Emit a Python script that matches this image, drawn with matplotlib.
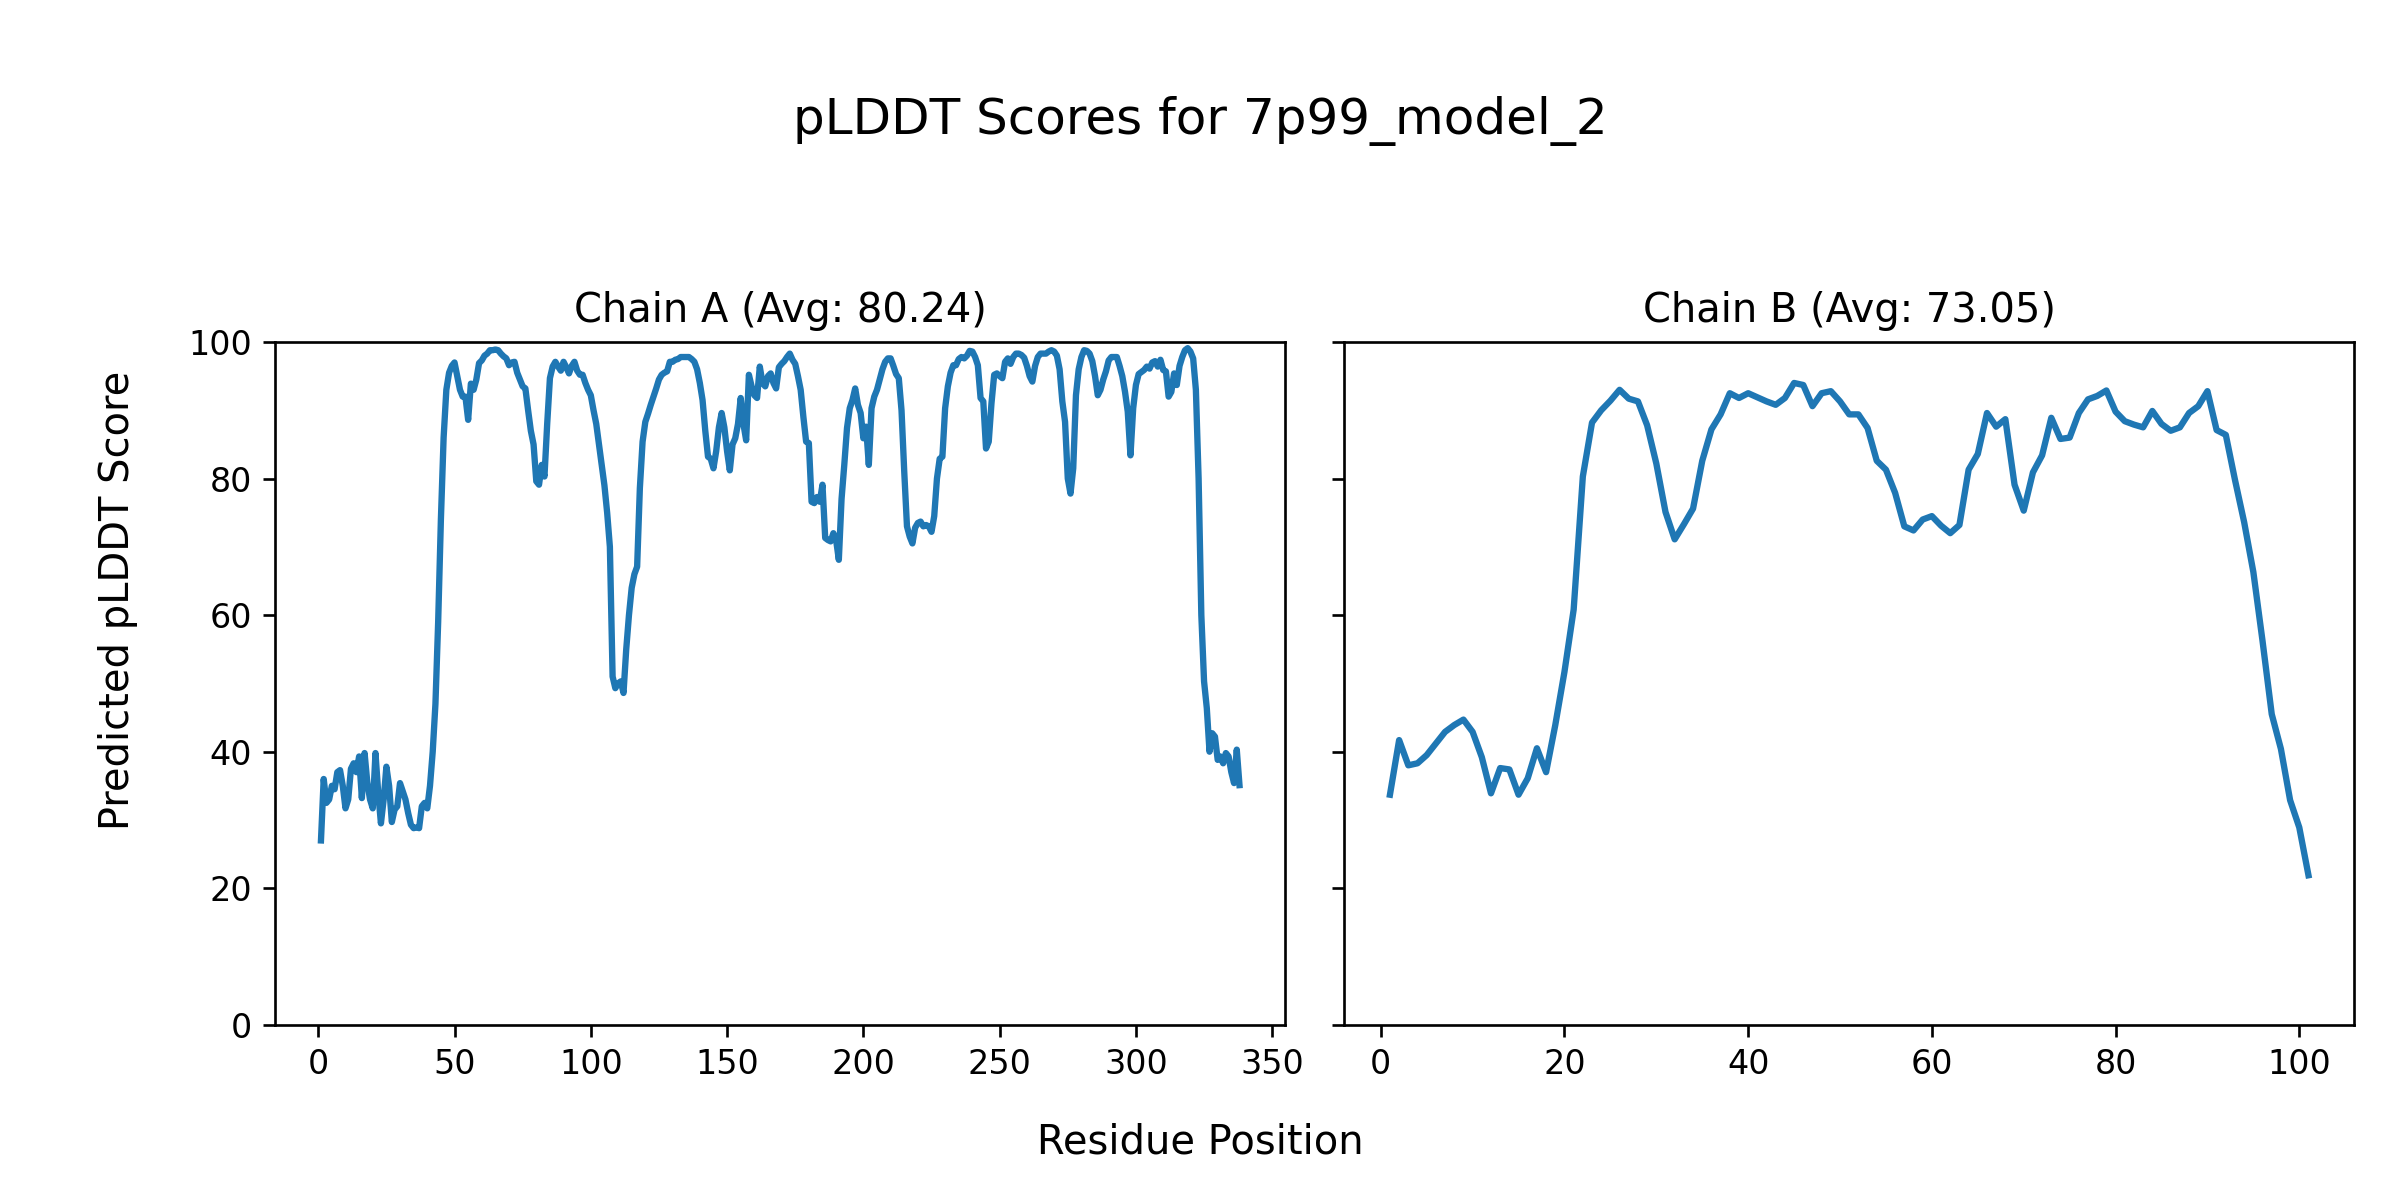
import numpy as np
import matplotlib
matplotlib.use("Agg")
import matplotlib.pyplot as plt

model_name = "7p99_model_2"
chain_ids = ["A", "B"]
chain_avgs = [80.24, 73.05]

# per-residue pLDDT, chain A (residues 1..338)
plddt_a = [
    27, 36, 32.5, 33, 35, 34.5, 37, 37.3, 35, 31.7,
    33, 37.5, 38.3, 37, 39.3, 33.2, 39.8, 35.5, 33, 31.7,
    39.8, 34, 29.5, 33, 37.8, 35, 29.7, 31.5, 32, 35.4,
    34.2, 33, 31, 29.3, 28.8, 28.9, 28.8, 32, 32.5, 31.7,
    35, 40, 47, 59, 74, 86, 93, 95.5, 96.5, 97,
    95, 93, 92, 92, 88.6, 93.9, 93, 94.5, 96.9, 97.3,
    98, 98.3, 98.8, 98.8, 98.9, 98.8, 98.3, 97.9, 97.6, 96.6,
    97, 97.1, 95.5, 94.5, 93.5, 93.2, 90, 87, 85, 79.6,
    79.1, 82, 80.3, 88, 94.7, 96.4, 97.1, 96.4, 95.8, 97.1,
    96.3, 95.4, 96.5, 97.1, 95.8, 95.2, 95.2, 94, 93, 92.2,
    90, 88, 85, 82, 79, 75, 70, 51, 49.3, 50,
    50.3, 48.6, 55, 60, 64, 66, 67.1, 78.6, 85.4, 88.3,
    89.5, 90.8, 92, 93.2, 94.5, 95.2, 95.5, 95.7, 97.1, 97.1,
    97.4, 97.5, 97.8, 97.8, 97.8, 97.8, 97.5, 97.1, 96, 94,
    91.5, 87, 83.2, 82.9, 81.5, 84, 87.5, 89.6, 87.5, 84,
    81.2, 85, 85.9, 88, 91.8, 88, 85.6, 95.2, 93.5, 92.2,
    91.8, 96.4, 94, 93.5, 95, 95.4, 94, 93.2, 96.3, 96.8,
    97.2, 97.8, 98.3, 97.4, 96.8, 95, 93, 89, 85.4, 85.2,
    76.6, 76.4, 77.3, 76.6, 79.1, 71.3, 71, 70.8, 72, 71,
    68.1, 77, 82, 87.4, 90.3, 91.5, 93.2, 90.8, 89.6, 85.9,
    87.6, 82, 90.3, 92, 93, 94.5, 96, 97.1, 97.6, 97.6,
    96.5, 95.3, 94.7, 90, 81, 73, 71.5, 70.5, 72.8, 73.5,
    73.7, 73, 73.2, 73, 72.2, 74.5, 80, 82.9, 83.2, 90.3,
    93.5, 95.5, 96.6, 96.6, 97.5, 97.8, 97.6, 98, 98.7, 98.6,
    97.8, 96.6, 91.8, 91.3, 84.4, 85.4, 91, 95.2, 95.4, 95,
    94.7, 97.1, 97.6, 96.8, 97.8, 98.3, 98.3, 98.1, 97.7, 96.5,
    95, 94.2, 96.5, 97.8, 98.3, 98.3, 98.3, 98.6, 98.8, 98.6,
    98, 96, 91.3, 88.3, 80, 77.8, 81.5, 92.2, 96, 97.8,
    98.8, 98.7, 98.3, 97.2, 95, 92.2, 93, 94.5, 95.7, 97.3,
    97.8, 97.8, 97.8, 96.5, 95, 92.7, 89.8, 83.4, 90.3, 93.7,
    95.3, 95.6, 95.9, 96.4, 96.1, 97, 97.2, 96.4, 97.4, 95.9,
    95.7, 92, 92.7, 95.4, 93.7, 96.5, 97.8, 98.8, 99.1, 98.6,
    97.6, 93, 80, 60, 50.3, 46.4, 40, 42.7, 42.2, 38.8,
    39.3, 38.3, 39.8, 39.3, 37, 35.4, 40.3, 35.1,
]

# chain B (residues 1..101)
plddt_b = [
    33.7, 41.7, 38.0, 38.3, 39.5, 41.2, 42.9, 43.9, 44.7, 42.9,
    39.2, 33.9, 37.6, 37.4, 33.7, 36.1, 40.5, 37.0, 43.9, 51.7,
    60.8, 80.3, 88.2, 90.0, 91.4, 93.0, 91.7, 91.3, 87.8, 82.2,
    75.1, 71.1, 73.3, 75.6, 82.6, 87.2, 89.4, 92.5, 91.8, 92.5,
    91.9, 91.3, 90.8, 91.8, 94.0, 93.7, 90.6, 92.5, 92.8, 91.3,
    89.4, 89.4, 87.4, 82.6, 81.3, 77.9, 73.0, 72.4, 74.0, 74.5,
    73.1, 72.0, 73.2, 81.3, 83.6, 89.6, 87.6, 88.7, 79.1, 75.3,
    80.9, 83.4, 88.9, 85.8, 86.0, 89.6, 91.6, 92.1, 92.9, 89.8,
    88.4, 87.9, 87.5, 89.9, 88.0, 87.0, 87.5, 89.6, 90.6, 92.8,
    87.1, 86.4, 79.8, 73.6, 66.3, 56.2, 45.5, 40.4, 32.9, 28.9,
    21.9,
]

fig, axes = plt.subplots(1, 2, figsize=(10, 5), dpi=240, sharey=True)

for ax, cid, avg, scores in zip(axes, chain_ids, chain_avgs, [plddt_a, plddt_b]):
    pos = np.arange(1, len(scores) + 1)
    ax.plot(pos, scores, color="tab:blue", linewidth=1.9)
    ax.set_title(f"Chain {cid} (Avg: {avg:.2f})", fontsize=12)
    ax.set_ylim(0, 100)

fig.suptitle(f"pLDDT Scores for {model_name}", fontsize=15, y=0.92)
fig.supxlabel("Residue Position", y=0.0475, va="center", fontsize=12)
fig.supylabel("Predicted pLDDT Score", x=0.049, ha="center", va="center", fontsize=12)
fig.subplots_adjust(left=0.1146, right=0.981, top=0.715, bottom=0.146, wspace=0.058)
fig.savefig("out.png", dpi=240)
